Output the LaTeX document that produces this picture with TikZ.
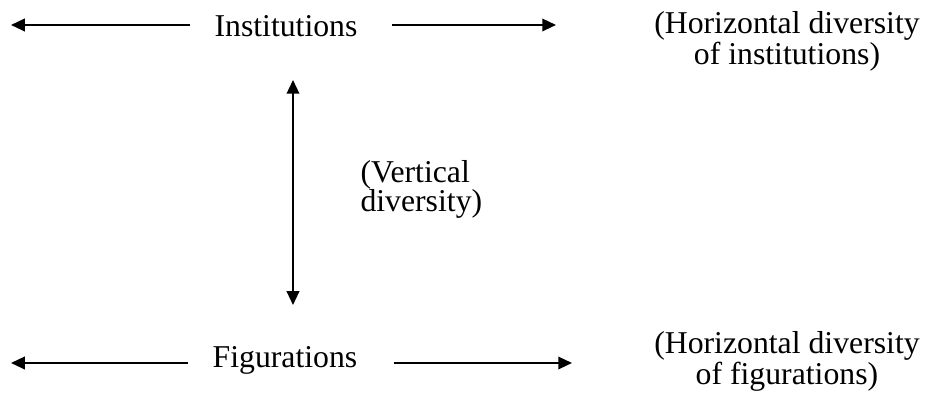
\documentclass[tikz,border=0pt]{standalone}
\usepackage{fontspec}
\setmainfont{Liberation Serif}
\usetikzlibrary{arrows.meta}
\tikzset{
	harrow/.style={line width=0.8pt, -{Triangle[length=5.5pt,width=5pt]}},
	varrow/.style={line width=0.8pt, {Triangle[length=5.5pt,width=5pt]}-{Triangle[length=5.5pt,width=5pt]}},
	level/.style={font=\fontsize{12.7}{11.6}\selectfont, inner sep=0pt, anchor=base},
	gloss/.style={font=\fontsize{12.7}{11.6}\selectfont, inner sep=0pt, align=center, anchor=base}
}
\begin{document}
\begin{tikzpicture}[x=0.4pt,y=-0.4pt]
		\useasboundingbox (0,0) rectangle (928,410);
		\node[level] (inst) at (286,37) {Institutions};
		\node[level] (fig) at (285,368) {Figurations};
		\node[gloss] (hinst) at (787,65) {(Horizontal diversity\\of institutions)};
		\node[gloss] (hfig) at (787,385) {(Horizontal diversity\\of figurations)};
		\node[gloss, align=left, anchor=base west] (vert) at (360,212) {(Vertical\\diversity)};
		\coordinate (instL) at (11,25);
		\coordinate (instR) at (556,25);
		\coordinate (figL) at (11,363);
		\coordinate (figR) at (572,363);
		\coordinate (vtop) at (293,80);
		\coordinate (vbot) at (293,305);
		\draw[harrow] (inst.west |- instL) ++(-24,0) -- (instL);
		\draw[harrow] (inst.east |- instR) ++(34,0) -- (instR);
		\draw[harrow] (fig.west |- figL) ++(-24,0) -- (figL);
		\draw[harrow] (fig.east |- figR) ++(36,0) -- (figR);
		\draw[varrow] (vtop) -- (vbot);
	\end{tikzpicture}
\end{document}
